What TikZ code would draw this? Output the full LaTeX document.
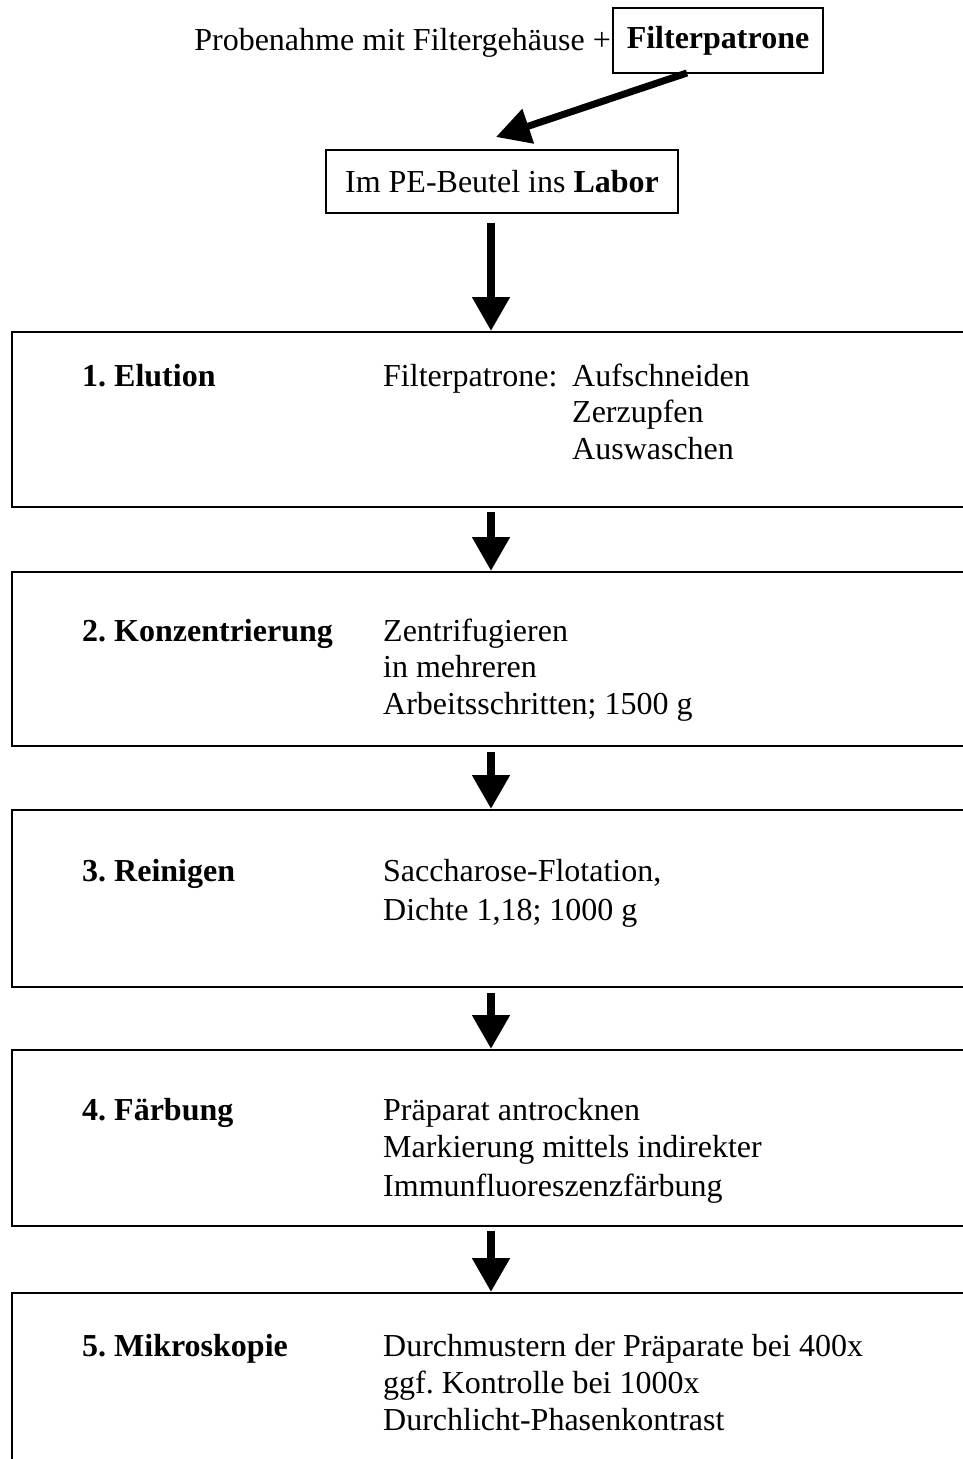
\documentclass[tikz,border=0pt]{standalone}
\usepackage{fontspec}
\setmainfont{Liberation Serif}
\usetikzlibrary{arrows.meta}
\frenchspacing
\begin{document}
\begin{tikzpicture}[x=1pt,y=-1pt,
  txt/.style={anchor=base west,inner sep=0pt,font=\fontsize{32}{38}\selectfont},
  lbl/.style={txt,font=\fontsize{32}{38}\selectfont\bfseries},
  stepbox/.style={draw,line width=2pt,inner sep=0pt,minimum width=958pt},
  arr/.style={line width=8pt,-{Triangle[length=34pt,width=36pt]}}]
\useasboundingbox (0,0) rectangle (963,1459);
\clip (0,0) rectangle (963,1459);
% top
\node[draw,line width=2pt,minimum width=210pt,minimum height=65pt,inner sep=0pt,font=\fontsize{32}{38}\selectfont\bfseries] (fp) at (718,40.5) {Filterpatrone};
\node[txt,anchor=base east] (probe) at (611,50) {Probenahme mit Filtergehäuse +};
\node[draw,line width=2pt,minimum width=352pt,minimum height=63pt,inner sep=0pt,font=\fontsize{32}{38}\selectfont] (lab) at (502,181.5) {Im PE-Beutel ins \textbf{Labor}};
\coordinate (tip) at (496,137);
\draw[line width=7pt,-{Triangle[length=34pt,width=35pt]}] ([xshift=-31pt,yshift=1pt]fp.south) -- (tip);
% boxes
\node[stepbox,minimum height=175pt] (b1) at (491,419.5) {};
\node[stepbox,minimum height=174pt] (b2) at (491,659) {};
\node[stepbox,minimum height=177pt] (b3) at (491,898.5) {};
\node[stepbox,minimum height=176pt] (b4) at (491,1138) {};
\node[stepbox,minimum height=200pt] (b5) at (491,1393) {};
\draw[arr,shorten <=9pt] (lab.south -| b1.north) -- (b1.north);
\draw[arr,shorten <=4pt] (b1.south) -- (b2.north);
\draw[arr,shorten <=5pt] (b2.south) -- (b3.north);
\draw[arr,shorten <=5pt] (b3.south) -- (b4.north);
\draw[arr,shorten <=4pt] (b4.south) -- (b5.north);
% texts
\node[lbl] (l1) at (82,386) {1. Elution};
\node[txt] (t1a) at (383,386) {Filterpatrone:};
\node[txt] (t1b) at (572,386) {Aufschneiden};
\node[txt] (t1c) at (572,422) {Zerzupfen};
\node[txt] (t1d) at (572,459) {Auswaschen};
\node[lbl] (l2) at (82,641) {2. Konzentrierung};
\node[txt] (t2a) at (383,641) {Zentrifugieren};
\node[txt] (t2b) at (383,677) {in mehreren};
\node[txt] (t2c) at (383,714) {Arbeitsschritten; 1500 g};
\node[lbl] (l3) at (82,881) {3. Reinigen};
\node[txt] (t3a) at (383,881) {Saccharose-Flotation,};
\node[txt] (t3b) at (383,920) {Dichte 1,18; 1000 g};
\node[lbl] (l4) at (82,1120) {4. Färbung};
\node[txt] (t4a) at (383,1120) {Präparat antrocknen};
\node[txt] (t4b) at (383,1157) {Markierung mittels indirekter};
\node[txt] (t4c) at (383,1196) {Immunfluoreszenzfärbung};
\node[lbl] (l5) at (82,1356) {5. Mikroskopie};
\node[txt] (t5a) at (383,1356) {Durchmustern der Präparate bei 400x};
\node[txt] (t5b) at (383,1393) {ggf. Kontrolle bei 1000x};
\node[txt] (t5c) at (383,1430) {Durchlicht-Phasenkontrast};
\end{tikzpicture}
\end{document}
